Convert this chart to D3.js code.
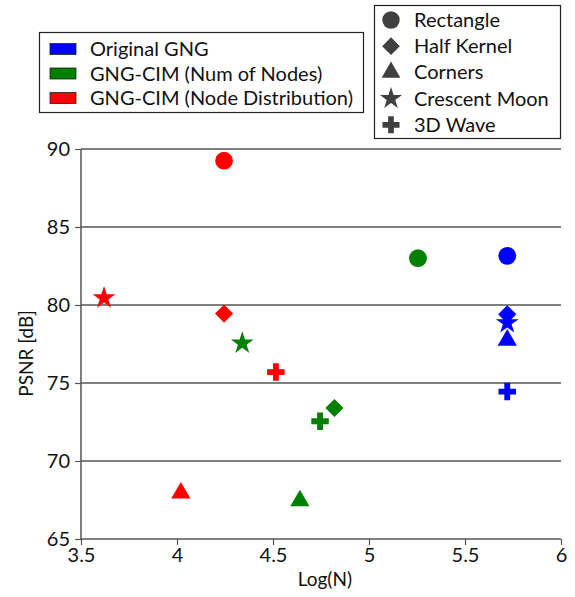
<!DOCTYPE html>
<html>
<head>
<meta charset="utf-8">
<script src="https://cdn.jsdelivr.net/npm/d3@7"></script>
<style>
  body { margin: 0; background: #fff; }
  text { font-family: Lato, "Open Sans", sans-serif; }
</style>
</head>
<body>
<div id="chart"></div>
<script>
var width = 575;
var height = 597;

// methods (colour series)
var methods = ["Original GNG", "GNG-CIM (Num of Nodes)", "GNG-CIM (Node Distribution)"];
var methodColors = ["#0000ff", "#008000", "#ff0000"];

// datasets (marker shapes)
var datasets = ["Rectangle", "Half Kernel", "Corners", "Crescent Moon", "3D Wave"];
var shapes = [d3.symbolCircle, d3.symbolDiamond2, d3.symbolTriangle, d3.symbolStar, d3.symbolCross];

// values: log(N) and PSNR per method, in dataset order
var logN_orig = [5.72, 5.72, 5.72, 5.72, 5.72];
var psnr_orig = [83.15, 79.4, 77.75, 78.85, 74.45];
var logN_num = [5.255, 4.82, 4.64, 4.34, 4.745];
var psnr_num = [83.0, 73.4, 67.45, 77.55, 72.55];
var logN_dist = [4.245, 4.245, 4.02, 3.62, 4.515];
var psnr_dist = [89.25, 79.45, 67.95, 80.45, 75.7];

var xTicks = [3.5, 4, 4.5, 5, 5.5, 6];
var yTicks = [65, 70, 75, 80, 85, 90];

var xs = [logN_orig, logN_num, logN_dist];
var ys = [psnr_orig, psnr_num, psnr_dist];
var points = [];
methods.forEach(function(m, i) {
  datasets.forEach(function(d, j) {
    points.push({method: i, set: j, x: xs[i][j], y: ys[i][j]});
  });
});

var svg = d3.select("#chart").append("svg")
  .attr("width", width)
  .attr("height", height);

var x = d3.scaleLinear().domain([3.5, 6]).range([81, 561]);
var y = d3.scaleLinear().domain([65, 90]).range([539, 149]);

// grid lines
svg.append("g").selectAll("line")
  .data(yTicks.slice(1))
  .join("line")
  .attr("x1", x(3.5)).attr("x2", x(6))
  .attr("y1", function(d) { return y(d); })
  .attr("y2", function(d) { return y(d); })
  .attr("stroke", "#000")
  .attr("stroke-width", 1.2);

var yAxis = svg.append("g")
  .attr("transform", "translate(" + x(3.5) + ",0)")
  .call(d3.axisLeft(y).tickValues(yTicks).tickSize(6).tickPadding(5).tickFormat(d3.format("d")));

var xAxis = svg.append("g")
  .attr("transform", "translate(0," + y(65) + ")")
  .call(d3.axisBottom(x).tickValues(xTicks).tickSize(6).tickPadding(3).tickFormat(function(d) { return d; }));

[yAxis, xAxis].forEach(function(a) {
  a.select(".domain").attr("stroke", "#555").attr("stroke-width", 1.5);
  a.selectAll(".tick line").attr("stroke", "#555").attr("stroke-width", 1.2);
  a.selectAll(".tick text").attr("fill", "#111").style("font-size", "20px")
    .style("font-family", "Lato, sans-serif");
});
xAxis.select(".domain").attr("d", "M" + x(3.5) + ",0H" + x(6));
yAxis.select(".domain").attr("d", "M0," + y(65) + "V" + y(90));

svg.append("text")
  .attr("x", x(4.77)).attr("y", 586)
  .attr("text-anchor", "middle")
  .style("font-size", "19px").attr("fill", "#111")
  .text("Log(N)");

svg.append("text")
  .attr("transform", "translate(33," + y(76.9) + ") rotate(-90)")
  .attr("text-anchor", "middle")
  .style("font-size", "19px").attr("fill", "#111")
  .text("PSNR [dB]");

function symSize(s) {
  if (s === d3.symbolStar) return 160;
  if (s === d3.symbolCross) return 170;
  if (s === d3.symbolTriangle) return 160;
  if (s === d3.symbolDiamond2) return 210;
  return 250;
}

svg.append("g").selectAll("path")
  .data(points)
  .join("path")
  .attr("transform", function(d) { return "translate(" + x(d.x) + "," + y(d.y) + ")"; })
  .attr("d", function(d) { return d3.symbol(shapes[d.set], symSize(shapes[d.set]))(); })
  .attr("fill", function(d) { return methodColors[d.method]; });

// legend: methods
var leg1 = svg.append("g");
leg1.append("rect")
  .attr("x", 39.5).attr("y", 32.5).attr("width", 324).attr("height", 80)
  .attr("fill", "#fff").attr("stroke", "#222").attr("stroke-width", 1.2);
methods.forEach(function(m, i) {
  var cy = 49 + i * 24.5;
  leg1.append("rect")
    .attr("x", 50).attr("y", cy - 5.5).attr("width", 26).attr("height", 11)
    .attr("fill", methodColors[i]).attr("stroke", "#222").attr("stroke-width", 0.8);
  leg1.append("text")
    .attr("x", 90).attr("y", cy).attr("dy", "0.35em")
    .style("font-size", "20px").attr("fill", "#111")
    .text(m);
});

// legend: datasets
var leg2 = svg.append("g");
leg2.append("rect")
  .attr("x", 374.5).attr("y", 5.5).attr("width", 186).attr("height", 133)
  .attr("fill", "#fff").attr("stroke", "#222").attr("stroke-width", 1.2);
datasets.forEach(function(d, i) {
  var cy = 20 + i * 26.2;
  leg2.append("path")
    .attr("transform", "translate(391," + cy + ")")
    .attr("d", d3.symbol(shapes[i], symSize(shapes[i]) * 0.95)())
    .attr("fill", "#404040");
  leg2.append("text")
    .attr("x", 414).attr("y", cy).attr("dy", "0.35em")
    .style("font-size", "20px").attr("fill", "#111")
    .text(d);
});
</script>
</body>
</html>
